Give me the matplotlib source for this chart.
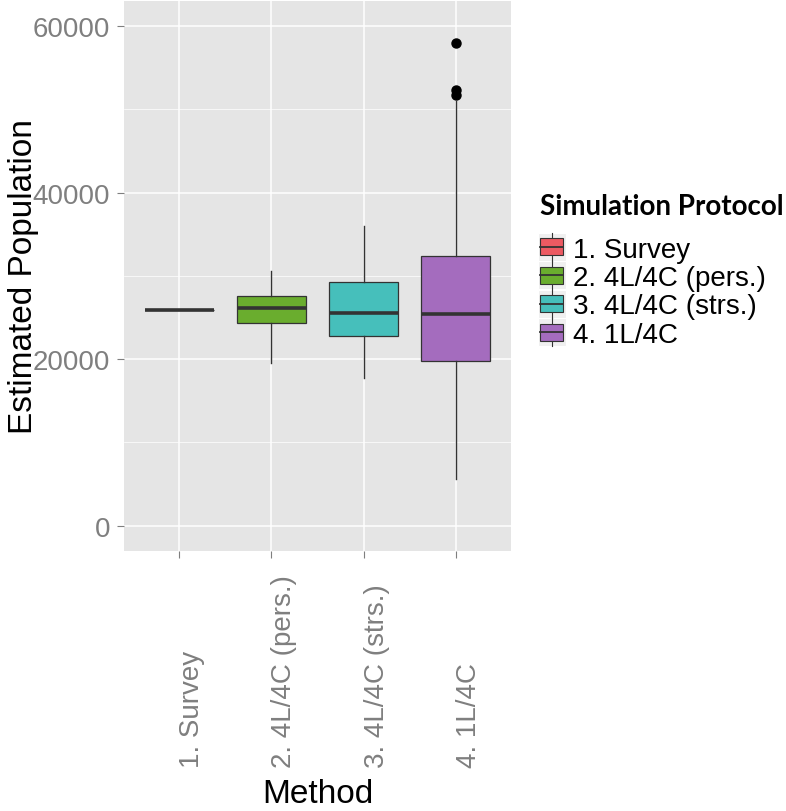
import matplotlib
matplotlib.use('Agg')
import matplotlib.pyplot as plt
import matplotlib.transforms as mtransforms
from matplotlib.patches import Rectangle

plt.rcParams['font.family'] = ['Liberation Sans', 'DejaVu Sans']

# data
methods = ['1. Survey', '2. 4L/4C (pers.)', '3. 4L/4C (strs.)', '4. 1L/4C']
colors = ['#EC5A62', '#6AAD2E', '#46BFBB', '#A46CBE']
q1 = [25900, 24360, 22730, 19770]
med = [25900, 26160, 25520, 25390]
q3 = [25900, 27580, 29210, 32420]
wlo = [25900, 19560, 17760, 5660]
whi = [25900, 30540, 35940, 51000]
outliers = [[], [], [], [57900, 52370, 51730]]

W, H = 786, 812
grey = '#7F7F7F'
dark = '#333333'

fig = plt.figure(figsize=(W / 100, H / 100), dpi=100)
ax = fig.add_axes([124 / W, 1 - 552 / H, 387 / W, 550 / H])
ax.set_facecolor('#E5E5E5')

stats = []
for m, a, b, c, d, e, f in zip(methods, q1, med, q3, wlo, whi, outliers):
    stats.append(dict(label=m, q1=a, med=b, q3=c, whislo=d, whishi=e, fliers=f))

pos = list(range(1, len(methods) + 1))
bp = ax.bxp(stats, positions=pos, widths=0.75, patch_artist=True, showcaps=False,
            boxprops=dict(edgecolor=dark, linewidth=0.9),
            medianprops=dict(color=dark, linewidth=2.6, solid_capstyle='butt'),
            whiskerprops=dict(color=dark, linewidth=1.0),
            flierprops=dict(marker='o', markerfacecolor='black', markeredgecolor='black',
                            markersize=6.5))
for patch, c in zip(bp['boxes'], colors):
    patch.set_facecolor(c)

ax.set_xlim(0.4, 4.6)
ax.set_ylim(-3040, 63000)
ax.set_yticks([0, 20000, 40000, 60000])
ax.set_yticks([10000, 30000, 50000], minor=True)
ax.set_xticks(pos)
ax.set_xticklabels([])
ax.grid(which='major', color='white', linewidth=1.1)
ax.grid(which='minor', axis='y', color='white', linewidth=0.5)
ax.set_axisbelow(True)
ax.tick_params(which='minor', length=0)
ax.tick_params(which='major', length=5, width=0.8, color=grey, labelcolor=grey,
               labelsize=20, pad=5)
for s in ax.spines.values():
    s.set_visible(False)

# rotated category labels
trans = mtransforms.blended_transform_factory(ax.transData, fig.transFigure)
for p, m in zip(pos, methods):
    ax.text(p, 1 - 768 / H, m, transform=trans, rotation=90, rotation_mode='anchor',
            ha='left', va='top', fontsize=20, color=grey)

ax.set_ylabel('Estimated Population', fontsize=24, color='black')
ax.yaxis.set_label_coords((39 - 124) / 387, 0.5)
ax.set_xlabel('Method', fontsize=24, color='black')
ax.xaxis.set_label_coords(0.5, (552 - 803) / 550)
ax.xaxis.label.set_va('baseline')

# legend
lax = fig.add_axes([0, 0, 1, 1])
lax.set_xlim(0, W)
lax.set_ylim(H, 0)
lax.axis('off')
lax.text(540, 215, 'Simulation Protocol', fontsize=20, fontweight='bold',
         family=['Lato', 'DejaVu Sans'], va='baseline', ha='left')
for i, (m, c) in enumerate(zip(methods, colors)):
    yc = 247.5 + 28.5 * i
    lax.add_patch(Rectangle((538, yc - 14), 28, 28, facecolor='#F0F0F0', edgecolor='white',
                            linewidth=0.8))
    lax.plot([552, 552], [yc - 14, yc + 14], color=dark, linewidth=0.8)
    lax.add_patch(Rectangle((540, yc - 8.5), 23, 17, facecolor=c, edgecolor=dark,
                            linewidth=0.8, zorder=3))
    lax.plot([540, 563], [yc, yc], color=dark, linewidth=1.3, zorder=4)
    lax.text(573, yc, m, fontsize=20, va='center_baseline', ha='left')

fig.savefig('out.png', dpi=100)
